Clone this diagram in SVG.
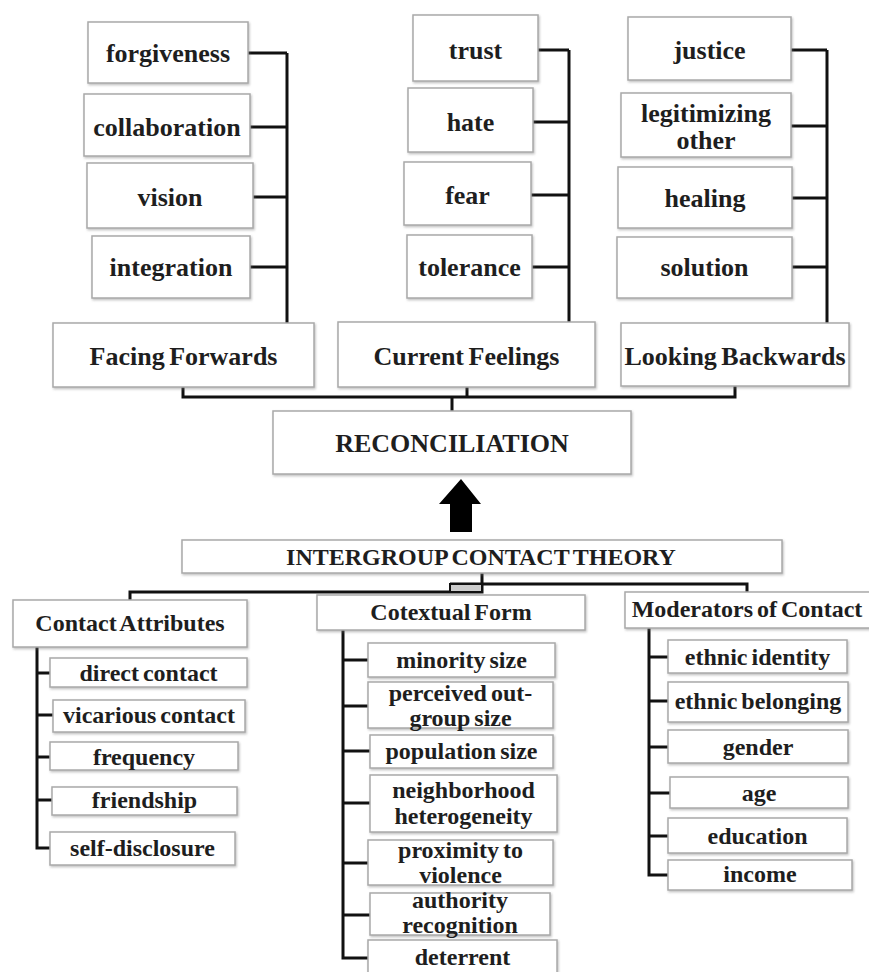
<svg xmlns="http://www.w3.org/2000/svg" width="869" height="972" viewBox="0 0 869 972">
<defs>
<filter id="sh" x="-5%" y="-10%" width="110%" height="130%">
<feDropShadow dx="1" dy="1.5" stdDeviation="1" flood-color="#777" flood-opacity="0.45"/>
</filter>
</defs>
<style>
.b{fill:#fff;stroke:#a9a9a9;stroke-width:1.5;filter:url(#sh)}
.t{font-family:"Liberation Serif","Times New Roman",serif;font-weight:bold;fill:#1e1e1e;text-anchor:middle;dominant-baseline:central;word-spacing:-2px}
.L{font-size:26px}
.S{font-size:24px}
.c{fill:none;stroke:#111;stroke-width:3}
</style>
<rect width="869" height="972" fill="#fff"/>

<g id="connectors">
<path class="c" d="M248,53H287M250,127H287M253,197H287M250,267H287M287,53V323"/>
<path class="c" d="M538,50H569M533,122H569M531,195H569M532,267H569M569,50V322"/>
<path class="c" d="M791,50H827M791,126H827M792,198H827M792,267H827M827,50V323"/>
<path class="c" d="M183,385V397H735V386M467,387V397M452,397V411"/>
<polygon points="461,479 481,504 472,504 472,532 450,532 450,504 439,504" fill="#000"/>
<path class="c" d="M482,573V592H130V600M450,584H747V592"/>
<rect x="450" y="584" width="32" height="8" fill="#ccc" stroke="#111" stroke-width="2"/>
<path class="c" d="M37,647V848H50M37,673H50M37,715H53M37,757H50M37,800H52"/>
<path class="c" d="M343,630V958H368M343,660H368M343,706H368M343,751H370M343,803H370M343,863H368M343,915H370"/>
<path class="c" d="M649,628V875H668M649,657H668M649,701H668M649,747H668M649,793H670M649,836H668"/>
</g>

<g id="forgiveness"><rect class="b" x="88" y="22" width="160" height="61"/><text class="t L" x="168" y="53">forgiveness</text></g>
<g id="collaboration"><rect class="b" x="84" y="94" width="166" height="62"/><text class="t L" x="167" y="127">collaboration</text></g>
<g id="vision"><rect class="b" x="87" y="163" width="166" height="65"/><text class="t L" x="170" y="197">vision</text></g>
<g id="integration"><rect class="b" x="92" y="236" width="158" height="62"/><text class="t L" x="171" y="267">integration</text></g>
<g id="facing-forwards"><rect class="b" x="53" y="323" width="261" height="64"/><text class="t L" x="183.5" y="356">Facing Forwards</text></g>

<g id="trust"><rect class="b" x="413" y="15" width="125" height="66"/><text class="t L" x="475.5" y="50">trust</text></g>
<g id="hate"><rect class="b" x="408" y="88" width="125" height="64"/><text class="t L" x="470.5" y="122">hate</text></g>
<g id="fear"><rect class="b" x="404" y="162" width="127" height="63"/><text class="t L" x="467.5" y="195">fear</text></g>
<g id="tolerance"><rect class="b" x="407" y="235" width="125" height="63"/><text class="t L" x="469.5" y="267">tolerance</text></g>
<g id="current-feelings"><rect class="b" x="338" y="322" width="257" height="65"/><text class="t L" x="466.5" y="356">Current Feelings</text></g>

<g id="justice"><rect class="b" x="628" y="17" width="163" height="63"/><text class="t L" x="709.5" y="50">justice</text></g>
<g id="legitimizing-other"><rect class="b" x="621" y="93" width="170" height="64"/><text class="t L" x="706" y="113">legitimizing</text><text class="t L" x="706" y="140">other</text></g>
<g id="healing"><rect class="b" x="618" y="167" width="174" height="61"/><text class="t L" x="705" y="198">healing</text></g>
<g id="solution"><rect class="b" x="617" y="237" width="175" height="61"/><text class="t L" x="704.5" y="267">solution</text></g>
<g id="looking-backwards"><rect class="b" x="621" y="323" width="228" height="63"/><text class="t L" x="735" y="356">Looking Backwards</text></g>

<g id="reconciliation"><rect class="b" x="273" y="411" width="358" height="63"/><text class="t L" x="452" y="443">RECONCILIATION</text></g>
<g id="intergroup-contact-theory"><rect class="b" x="182" y="540" width="600" height="33"/><text class="t S" x="481" y="557">INTERGROUP CONTACT THEORY</text></g>

<g id="contact-attributes"><rect class="b" x="13" y="600" width="234" height="47"/><text class="t S" x="130" y="623">Contact Attributes</text></g>
<g id="direct-contact"><rect class="b" x="50" y="658" width="197" height="29"/><text class="t S" x="148.5" y="673">direct contact</text></g>
<g id="vicarious-contact"><rect class="b" x="53" y="700" width="192" height="32"/><text class="t S" x="149" y="715">vicarious contact</text></g>
<g id="frequency"><rect class="b" x="50" y="742" width="188" height="28"/><text class="t S" x="144" y="757">frequency</text></g>
<g id="friendship"><rect class="b" x="52" y="787" width="185" height="28"/><text class="t S" x="144.5" y="800">friendship</text></g>
<g id="self-disclosure"><rect class="b" x="50" y="832" width="185" height="33"/><text class="t S" x="142.5" y="848">self-disclosure</text></g>

<g id="cotextual-form"><rect class="b" x="317" y="595" width="268" height="35"/><text class="t S" x="451" y="612">Cotextual Form</text></g>
<g id="minority-size"><rect class="b" x="368" y="643" width="187" height="34"/><text class="t S" x="461.5" y="660">minority size</text></g>
<g id="perceived-out-group-size"><rect class="b" x="368" y="682" width="185" height="46"/><text class="t S" x="460.5" y="693">perceived out-</text><text class="t S" x="460.5" y="718">group size</text></g>
<g id="population-size"><rect class="b" x="370" y="735" width="183" height="33"/><text class="t S" x="461.5" y="751">population size</text></g>
<g id="neighborhood-heterogeneity"><rect class="b" x="370" y="775" width="187" height="57"/><text class="t S" x="463.5" y="790">neighborhood</text><text class="t S" x="463.5" y="816">heterogeneity</text></g>
<g id="proximity-to-violence"><rect class="b" x="368" y="840" width="185" height="45"/><text class="t S" x="460.5" y="850">proximity to</text><text class="t S" x="460.5" y="875">violence</text></g>
<g id="authority-recognition"><rect class="b" x="370" y="893" width="180" height="42"/><text class="t S" x="460" y="900">authority</text><text class="t S" x="460" y="925">recognition</text></g>
<g id="deterrent"><rect class="b" x="368" y="940" width="189" height="40"/><text class="t S" x="462.5" y="957">deterrent</text></g>

<g id="moderators-of-contact"><rect class="b" x="625" y="592" width="248" height="36"/><text class="t S" x="747" y="609">Moderators of Contact</text></g>
<g id="ethnic-identity"><rect class="b" x="668" y="640" width="179" height="33"/><text class="t S" x="757.5" y="657">ethnic identity</text></g>
<g id="ethnic-belonging"><rect class="b" x="668" y="682" width="180" height="40"/><text class="t S" x="758" y="701">ethnic belonging</text></g>
<g id="gender"><rect class="b" x="668" y="730" width="180" height="33"/><text class="t S" x="758" y="747">gender</text></g>
<g id="age"><rect class="b" x="670" y="777" width="178" height="31"/><text class="t S" x="759" y="793">age</text></g>
<g id="education"><rect class="b" x="668" y="818" width="179" height="35"/><text class="t S" x="757.5" y="836">education</text></g>
<g id="income"><rect class="b" x="668" y="860" width="184" height="30"/><text class="t S" x="760" y="874">income</text></g>
</svg>
